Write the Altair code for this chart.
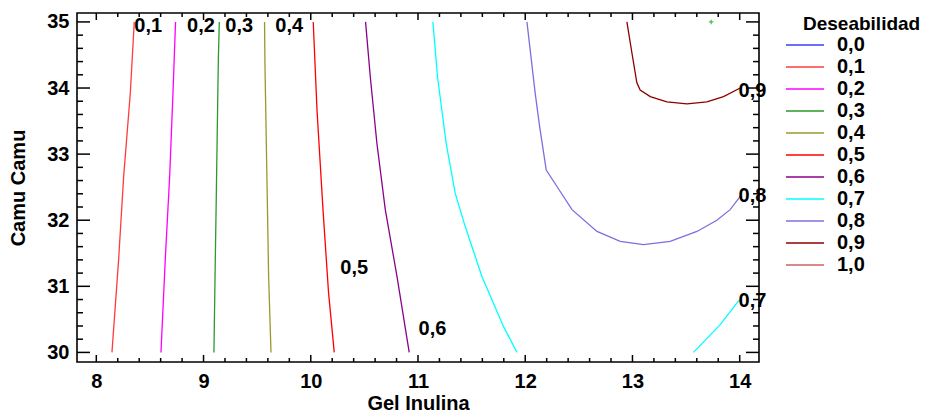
import altair as alt
import pandas as pd

FONT = "Liberation Sans"

# ---- legend levels and colours ----
levels = ["0,0", "0,1", "0,2", "0,3", "0,4", "0,5", "0,6", "0,7", "0,8", "0,9", "1,0"]
level_colors = ["#3c3cff", "#ff3c3c", "#ff00ff", "#2a9a2a", "#99992a", "#ff0000",
                "#8b008b", "#00ffff", "#7a70e0", "#8b0000", "#d06060"]

# ---- contour lines (Gel Inulina, Camu Camu) ----
c01_x = [8.354, 8.317, 8.255, 8.208, 8.146]
c01_y = [35.0, 33.92, 32.66, 31.40, 30.0]
c02_x = [8.739, 8.715, 8.684, 8.643, 8.603]
c02_y = [35.0, 33.92, 32.66, 31.40, 30.0]
c03_x = [9.147, 9.138, 9.119, 9.109, 9.097]
c03_y = [35.0, 34.43, 32.36, 31.34, 30.0]
c04_x = [9.569, 9.573, 9.591, 9.607, 9.629]
c04_y = [35.0, 34.33, 32.66, 31.15, 30.0]
c05_x = [10.023, 10.058, 10.114, 10.166, 10.219]
c05_y = [35.0, 33.67, 32.16, 30.90, 30.0]
c06_x = [10.511, 10.555, 10.617, 10.695, 10.804, 10.918]
c06_y = [35.0, 34.17, 33.16, 32.16, 31.15, 30.0]
c07a_x = [11.139, 11.182, 11.263, 11.347, 11.441, 11.596, 11.798, 11.923]
c07a_y = [35.0, 34.17, 33.16, 32.41, 31.90, 31.15, 30.39, 30.0]
c07b_x = [13.569, 13.818, 13.995]
c07b_y = [30.0, 30.42, 30.79]
c08_x = [12.016, 12.093, 12.134, 12.196, 12.296, 12.436, 12.669, 12.886, 13.103,
         13.352, 13.601, 13.787, 13.911, 14.005]
c08_y = [35.0, 33.92, 33.42, 32.76, 32.51, 32.16, 31.83, 31.68, 31.63,
         31.68, 31.83, 32.0, 32.16, 32.36]
c09_x = [12.948, 12.995, 13.041, 13.072, 13.166, 13.321, 13.508, 13.694, 13.849, 14.005]
c09_y = [35.0, 34.53, 34.08, 33.97, 33.87, 33.79, 33.76, 33.79, 33.87, 34.00]

# ---- contour labels ----
lab_text = ["0,1", "0,2", "0,3", "0,4", "0,5", "0,6", "0,7", "0,8", "0,9"]
lab_x = [8.354, 8.846, 9.203, 9.669, 10.275, 11.005, 13.989, 13.989, 13.989]
lab_y = [34.94, 34.94, 34.94, 34.94, 31.27, 30.36, 30.78, 32.37, 33.96]

# ---- optimum marker ----
opt_x = [13.734]
opt_y = [35.0]

# ---- axis ticks ----
x_major = [8, 9, 10, 11, 12, 13, 14]
y_major = [30, 31, 32, 33, 34, 35]
x_minor = [round(m + k * 0.2, 1) for m in x_major[:-1] for k in (1, 2, 3, 4)]
y_minor = [round(m + k * 0.2, 1) for m in y_major[:-1] for k in (1, 2, 3, 4)]

W, H = 682, 349

contours = [("0,1", "a", c01_x, c01_y), ("0,2", "a", c02_x, c02_y),
            ("0,3", "a", c03_x, c03_y), ("0,4", "a", c04_x, c04_y),
            ("0,5", "a", c05_x, c05_y), ("0,6", "a", c06_x, c06_y),
            ("0,7", "a", c07a_x, c07a_y), ("0,7", "b", c07b_x, c07b_y),
            ("0,8", "a", c08_x, c08_y), ("0,9", "a", c09_x, c09_y)]
rows = []
for lvl, seg, xs_, ys_ in contours:
    for i, (xv, yv) in enumerate(zip(xs_, ys_)):
        rows.append({"level": lvl, "seg": lvl + seg, "i": i, "x": xv, "y": yv})
lines_df = pd.DataFrame(rows)
labels_df = pd.DataFrame({"x": lab_x, "y": lab_y, "t": lab_text})
opt_df = pd.DataFrame({"x": opt_x, "y": opt_y})

xs = alt.Scale(domain=[7.82, 14.18], nice=False, zero=False)
ys = alt.Scale(domain=[29.855, 35.135], nice=False, zero=False)

x_axis = alt.Axis(values=x_major, format="d", ticks=False, domain=False, grid=False,
                  labelFont=FONT, labelFontSize=20, labelFontWeight="bold", labelColor="black",
                  labelPadding=9, title="Gel Inulina", titleFont=FONT, titleFontSize=20,
                  titleFontWeight="bold", titleColor="black", titlePadding=2)
y_axis = alt.Axis(values=y_major, format="d", ticks=False, domain=False, grid=False,
                  labelFont=FONT, labelFontSize=20, labelFontWeight="bold", labelColor="black",
                  labelPadding=8, title="Camu Camu", titleFont=FONT, titleFontSize=20,
                  titleFontWeight="bold", titleColor="black", titlePadding=18)


def X(field="x"):
    return alt.X(f"{field}:Q", scale=xs, axis=x_axis)


def Y(field="y"):
    return alt.Y(f"{field}:Q", scale=ys, axis=y_axis)


legend = alt.Legend(orient="none", legendX=708, legendY=22, title=None,
                    symbolType="stroke", symbolSize=1444, symbolStrokeWidth=1.5,
                    labelFont=FONT, labelFontSize=20, labelFontWeight="bold",
                    labelColor="black", labelOffset=12, rowPadding=2, clipHeight=20,
                    padding=0)

lines = alt.Chart(lines_df).mark_line(strokeWidth=1.3).encode(
    x=X(), y=Y(),
    color=alt.Color("level:N", scale=alt.Scale(domain=levels, range=level_colors), legend=legend),
    detail="seg:N",
    order=alt.Order("i:Q"),
)

texts = alt.Chart(labels_df).mark_text(
    align="left", baseline="middle", font=FONT, fontSize=20, fontWeight="bold", color="black"
).encode(x=X(), y=Y(), text="t:N")

opt = alt.Chart(opt_df).mark_point(
    shape="M-1,0L1,0M0,-1L0,1", size=20, filled=False, color="#00a000", strokeWidth=1.2
).encode(x=X(), y=Y())

leg_title = alt.Chart(pd.DataFrame({"t": ["Deseabilidad"]})).mark_text(
    align="left", baseline="middle", font=FONT, fontSize=19, fontWeight="bold", color="black"
).encode(text="t:N", x=alt.value(726), y=alt.value(11))

xmaj_df = pd.DataFrame({"x": x_major})
xmin_df = pd.DataFrame({"x": x_minor})
ymaj_df = pd.DataFrame({"y": y_major})
ymin_df = pd.DataFrame({"y": y_minor})

tick_style = dict(color="black", strokeWidth=1.5)
tick_layers = [
    alt.Chart(xmaj_df).mark_rule(**tick_style).encode(x=X(), y=alt.value(H), y2=alt.value(H - 7)),
    alt.Chart(xmaj_df).mark_rule(**tick_style).encode(x=X(), y=alt.value(0), y2=alt.value(7)),
    alt.Chart(xmin_df).mark_rule(**tick_style).encode(x=X(), y=alt.value(H), y2=alt.value(H - 4)),
    alt.Chart(xmin_df).mark_rule(**tick_style).encode(x=X(), y=alt.value(0), y2=alt.value(4)),
    alt.Chart(ymaj_df).mark_rule(**tick_style).encode(y=Y(), x=alt.value(0), x2=alt.value(13)),
    alt.Chart(ymaj_df).mark_rule(**tick_style).encode(y=Y(), x=alt.value(W), x2=alt.value(W - 13)),
    alt.Chart(ymin_df).mark_rule(**tick_style).encode(y=Y(), x=alt.value(0), x2=alt.value(6)),
    alt.Chart(ymin_df).mark_rule(**tick_style).encode(y=Y(), x=alt.value(W), x2=alt.value(W - 6)),
]

chart = alt.layer(*tick_layers, lines, texts, opt, leg_title).properties(
    width=W, height=H,
    autosize=alt.AutoSizeParams(type="none"),
    padding={"left": 77, "top": 13, "right": 170, "bottom": 51},
    background="white",
).configure_view(stroke="black", strokeWidth=1.6)

chart.save("out.html", embed_options={"renderer": "svg", "actions": False})
